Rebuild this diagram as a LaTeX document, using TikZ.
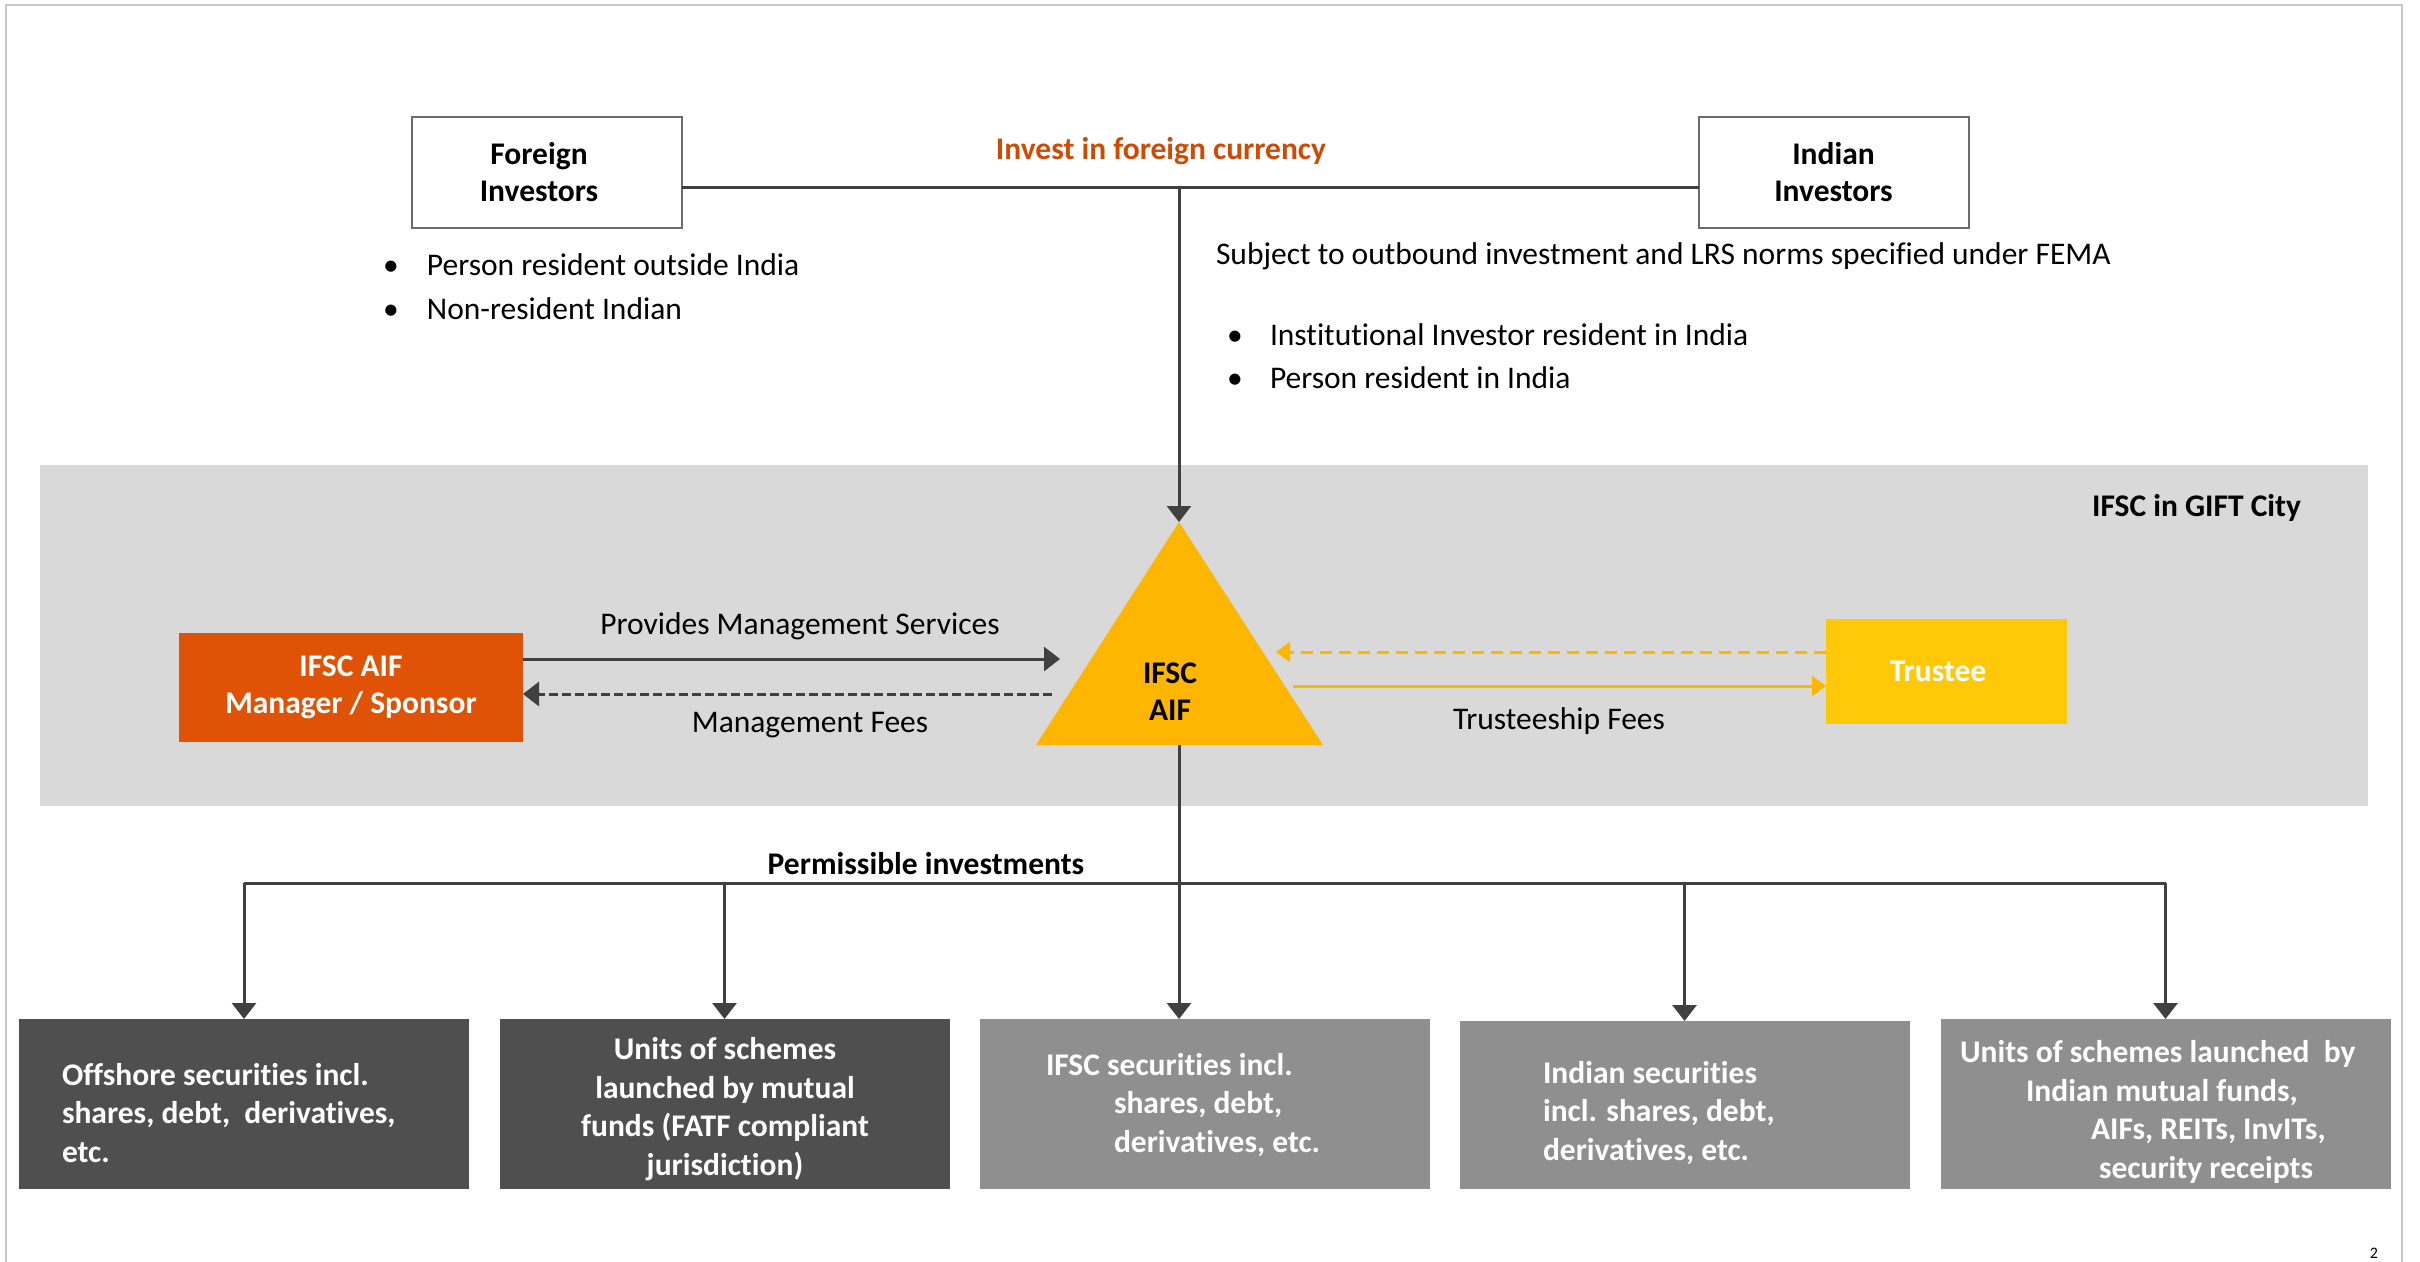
\documentclass[tikz,border=0pt]{standalone}
\usepackage{fontspec}
\setmainfont{Carlito}[Ligatures=NoCommon]
\usetikzlibrary{arrows.meta,calc}
\definecolor{connector}{HTML}{404040}
\definecolor{boxline}{HTML}{6B6B6B}
\definecolor{framecol}{HTML}{C8C8C8}
\definecolor{textorange}{HTML}{D04A02}
\definecolor{mgrorange}{HTML}{E05206}
\definecolor{bandgray}{HTML}{D9D9D9}
\definecolor{aifyellow}{HTML}{FFB600}
\definecolor{trusteeyellow}{HTML}{FFC90A}
\definecolor{darkbox}{HTML}{4F4F4F}
\definecolor{lightbox}{HTML}{8F8F8F}
\begin{document}
\begin{tikzpicture}[x=1pt,y=-1pt,
  every node/.style={inner sep=0pt, outer sep=0pt},
  body/.style={font=\fontsize{31.5}{37}\selectfont, yshift=-3pt},
  boldtext/.style={font=\fontsize{31.5}{37}\selectfont\bfseries, yshift=-3pt},
  invbox/.style={draw=boxline, line width=2pt, fill=white, minimum width=270pt, minimum height=111pt, align=center, font=\fontsize{31.5}{37}\selectfont\bfseries},
  conn/.style={draw=connector, line width=3pt},
  tip/.style={-{Triangle[length=16pt,width=24pt]}},
  ytip/.style={-{Triangle[length=14pt,width=20pt]}},
  outbox/.style={minimum width=450pt, minimum height=170pt},
  outtext/.style={text=white, font=\fontsize{31.5}{38.5}\selectfont\bfseries, yshift=-3pt},
  filledbox/.style={text=white, font=\fontsize{31.5}{37}\selectfont\bfseries, align=center},
]
\useasboundingbox (0,0) rectangle (2420,1261);
\fill[white] (0,0) rectangle (2420,1261);
\draw[framecol, line width=2pt] (6,1265) -- (6,5) -- (2402,5) -- (2402,1265);

% investors
\node[invbox] (foreign) at (547,172.5) {\hspace*{-16pt}Foreign\\\hspace*{-16pt}Investors};
\node[invbox] (indian) at (1833.5,172.5) {Indian\\Investors};
\node[boldtext, text=textorange] (invest) at (1161,148) {Invest in foreign currency};

\node[body, font=\fontsize{31.5}{44}\selectfont, align=left, anchor=west] (flist) at (383,284)
  {\makebox[44pt][l]{•}Person resident outside India\\\makebox[44pt][l]{•}Non-resident Indian};
\node[body, anchor=west] (subject) at (1216,253) {Subject to outbound investment and LRS norms specified under FEMA};
\node[body, font=\fontsize{31.5}{43}\selectfont, align=left, anchor=west] (ilist) at (1227,353.5)
  {\makebox[43pt][l]{•}Institutional Investor resident in India\\\makebox[43pt][l]{•}Person resident in India};

% band
\node[fill=bandgray, minimum width=2328pt, minimum height=341pt] (band) at (1204,635.5) {};
\node[boldtext, anchor=east] (gift) at (2301,505) {IFSC in GIFT City};

% triangle
\coordinate (apex) at (1179,522);
\coordinate (base) at (1179,745);
\fill[aifyellow] (apex) -- (1323,745) -- (1036,745) -- cycle;
\node[boldtext, align=center] (aif) at (1170,689) {IFSC\\AIF};

% manager and trustee
\node[fill=mgrorange, minimum width=344pt, minimum height=109pt, filledbox] (mgr) at (351,687.5) {IFSC AIF\\Manager / Sponsor};
\node[fill=trusteeyellow, minimum width=241pt, minimum height=105pt, filledbox] (trustee) at (1946.5,671.5) {\hspace*{-17pt}Trustee};

% top connectors
\coordinate (top) at (1179,187);
\draw[conn] (foreign.east |- top) -- (indian.west |- top);
\draw[conn, tip] (top) -- (apex);

% management
\coordinate (mgrin) at (1060,659);
\coordinate (mgrout) at (1052,694);
\draw[conn, tip] (mgr.east |- mgrin) -- (mgrin);
\draw[conn, tip, dash pattern=on 9pt off 4pt] (mgrout) -- (mgr.east |- mgrout);
\node[body] (provides) at (800,623) {Provides Management Services};
\node[body] (mfees) at (810,722) {Management Fees};

% trustee arrows
\coordinate (trin) at (1276,652);
\coordinate (trout) at (1293,686);
\draw[aifyellow, line width=3pt, ytip, dash pattern=on 12pt off 7pt] (trustee.west |- trin) -- (trin);
\draw[aifyellow, line width=3pt, ytip] (trout) -- (trustee.west |- trout);
\node[body] (tfees) at (1559,718) {Trusteeship Fees};

% outputs
\node[outbox, fill=darkbox] (b1) at (244,1104) {};
\node[outbox, fill=darkbox] (b2) at (724.5,1104) {};
\node[outbox, fill=lightbox] (b3) at (1204.5,1104) {};
\node[outbox, fill=lightbox, minimum height=168pt] (b4) at (1684.5,1105) {};
\node[outbox, fill=lightbox] (b5) at (2165.5,1104) {};

\node[outtext, align=left, anchor=west] (t1) at (62,1110)
  {Offshore securities incl.\\shares, debt,\ \ derivatives,\\etc.};
\node[outtext, align=center] (t2) at (725,1106)
  {Units of schemes\\launched by mutual\\funds (FATF compliant\\jurisdiction)};
\node[outtext, align=left, anchor=west] (t3) at (1046,1102)
  {IFSC securities incl.\\\hspace*{68pt}shares, debt,\\\hspace*{68pt}derivatives, etc.};
\node[outtext, align=left, anchor=west] (t4) at (1543,1110)
  {Indian securities\\incl. shares, debt,\\derivatives, etc.};
\node[outtext, align=left, anchor=west] (t5) at (1960,1109)
  {Units of schemes launched\ \ by\\\hspace*{66pt}Indian mutual funds,\\\hspace*{131pt}AIFs, REITs, InvITs,\\\hspace*{139pt}security receipts};

% permissible investments
\coordinate (hub) at (1179,883);
\node[boldtext] (perm) at (926,861) {Permissible investments};
\draw[conn] (base) -- (hub);
\draw[conn] (b1.north |- hub) -- (b5.north |- hub);
\draw[conn, tip] (b1.north |- hub) -- (b1.north);
\draw[conn, tip] (b2.north |- hub) -- (b2.north);
\draw[conn, tip] (hub) -- (hub |- b3.north);
\draw[conn, tip] (b4.north |- hub) -- (b4.north);
\draw[conn, tip] (b5.north |- hub) -- (b5.north);

\node[font=\fontsize{16}{18}\selectfont] (pagenum) at (2374,1253) {2};
\end{tikzpicture}
\end{document}
